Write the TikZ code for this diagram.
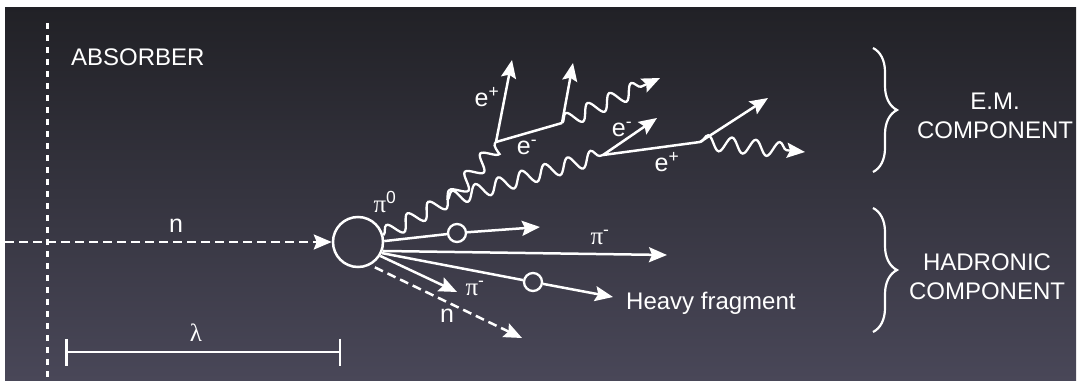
\documentclass[tikz,border=0pt]{standalone}
\usepackage{fontspec}
\setmainfont{Liberation Sans}
\newfontfamily\grk{Liberation Serif}
\usetikzlibrary{arrows.meta, decorations.pathmorphing, decorations.pathreplacing}
\definecolor{bgtop}{RGB}{33,33,38}
\definecolor{bgmid}{RGB}{52,51,60}
\definecolor{bgbot}{RGB}{73,71,88}
\tikzset{
  tip/.style  = {-{Stealth[length=18pt, width=15pt, inset=3pt]}},
  prt/.style  = {white, line width=2.5pt, tip},
  trk/.style  = {white, line width=2.5pt},
  dsh/.style  = {prt, dash pattern=on 9pt off 5pt},
  wall/.style = {white, line width=3pt, dash pattern=on 6pt off 6pt},
  phot/.style = {white, line width=2.3pt, decorate,
                 decoration={snake, segment length=24pt, amplitude=7.5pt, post length=10pt}},
  hub/.style  = {draw=white, circle, line width=2.5pt, minimum size=50pt, inner sep=0pt},
  bead/.style = {draw=white, circle, line width=2.3pt, minimum size=18pt, inner sep=0pt},
  brc/.style  = {white, line width=2.2pt, decorate, decoration={brace, amplitude=24pt}},
  lbl/.style  = {white, font=\fontsize{25}{29}\selectfont, inner sep=1pt},
  big/.style  = {white, font=\fontsize{24}{29}\selectfont, align=center, inner sep=1pt},
}

\begin{document}
\begin{tikzpicture}[x=1pt, y=-1pt]
  \useasboundingbox (0,0) rectangle (1078,380);
  \fill[white] (0,0) rectangle (1078,380);
  \shade[top color=bgtop, middle color=bgmid, bottom color=bgbot] (5,7) rectangle (1076,380);

  \coordinate (abt) at (47,23);
  \coordinate (abb) at (47,380);
  \draw[wall] (abt) -- (abb);
  \node[big, anchor=west] (abs) at (70,57) {ABSORBER};

  \node[hub] (nuc) at (358,242) {};
  \coordinate (src) at (5,242);
  \draw[dsh] (src) -- (nuc);
  \node[lbl] (nin) at (176,226) {n};

  \coordinate (la) at (65,352);
  \coordinate (lb) at (341,352);
  \draw[trk, {Bar[width=27pt]}-{Bar[width=27pt]}] (la) -- (lb);
  \node[lbl] (lam) at (196,333) {\grk λ};

  % e.m. part
  \coordinate (sp) at (447,200);
  \coordinate (v1) at (496,142);
  \coordinate (v2) at (562,123);
  \coordinate (v3) at (603,155);
  \coordinate (v4) at (700,142);
  \coordinate (e1) at (512,60);
  \coordinate (e2) at (573,63);
  \coordinate (e3) at (657,118);
  \coordinate (e4) at (768,98);
  \coordinate (g1) at (660,78);
  \coordinate (g2) at (805,152);
  \draw[phot, decoration={post length=0pt}] (nuc.15) -- (sp) -- (v1);
  \draw[phot, decoration={post length=0pt}] (sp) -- (v3);
  \draw[prt] (v1) -- (e1);
  \draw[trk] (v1) -- (v2);
  \draw[prt] (v2) -- (e2);
  \draw[phot, tip] (v2) -- (g1);
  \draw[prt] (v3) -- (e3);
  \draw[trk] (v3) -- (v4);
  \draw[prt] (v4) -- (e4);
  \draw[phot, tip] (v4) -- (g2);
  \node[lbl] (pi0) at (385,202) {\grk π\textsuperscript{\rmfamily 0}};
  \node[lbl] (ep1) at (487,97) {e\textsuperscript{+}};
  \node[lbl] (em1) at (527,147) {e\textsuperscript{-}};
  \node[lbl] (em2) at (622,129) {e\textsuperscript{-}};
  \node[lbl] (ep2) at (667,162) {e\textsuperscript{+}};

  % hadronic part
  \node[bead] (b1) at (457,233) {};
  \node[bead] (b2) at (533,282) {};
  \coordinate (h1) at (540,227);
  \coordinate (h2) at (667,255);
  \coordinate (h3) at (613,297);
  \coordinate (h4) at (457,292);
  \coordinate (h5) at (522,338);
  \draw[trk] (nuc.2) -- (b1);
  \draw[prt] (b1) -- (h1);
  \draw[prt] (nuc.-20) -- (h2);
  \draw[trk] (nuc.-25) -- (b2);
  \draw[prt] (b2) -- (h3);
  \draw[prt] (nuc.-32) -- (h4);
  \draw[dsh, shorten <=5pt] (nuc.-62) -- (h5);
  \node[lbl] (pim1) at (600,237) {\grk π\textsuperscript{\rmfamily -}};
  \node[lbl] (pim2) at (475,288) {\grk π\textsuperscript{\rmfamily -}};
  \node[lbl] (nout) at (447,316) {n};
  \node[big, anchor=west] (hvy) at (625,303) {Heavy fragment};

  \coordinate (ema) at (873,48);
  \coordinate (emb) at (873,172);
  \coordinate (hda) at (873,208);
  \coordinate (hdb) at (873,332);
  \draw[brc] (ema) -- (emb);
  \draw[brc] (hda) -- (hdb);
  \node[big] (emc) at (995,116) {E.M.\\COMPONENT};
  \node[big] (hdc) at (987,277) {HADRONIC\\COMPONENT};
\end{tikzpicture}
\end{document}
